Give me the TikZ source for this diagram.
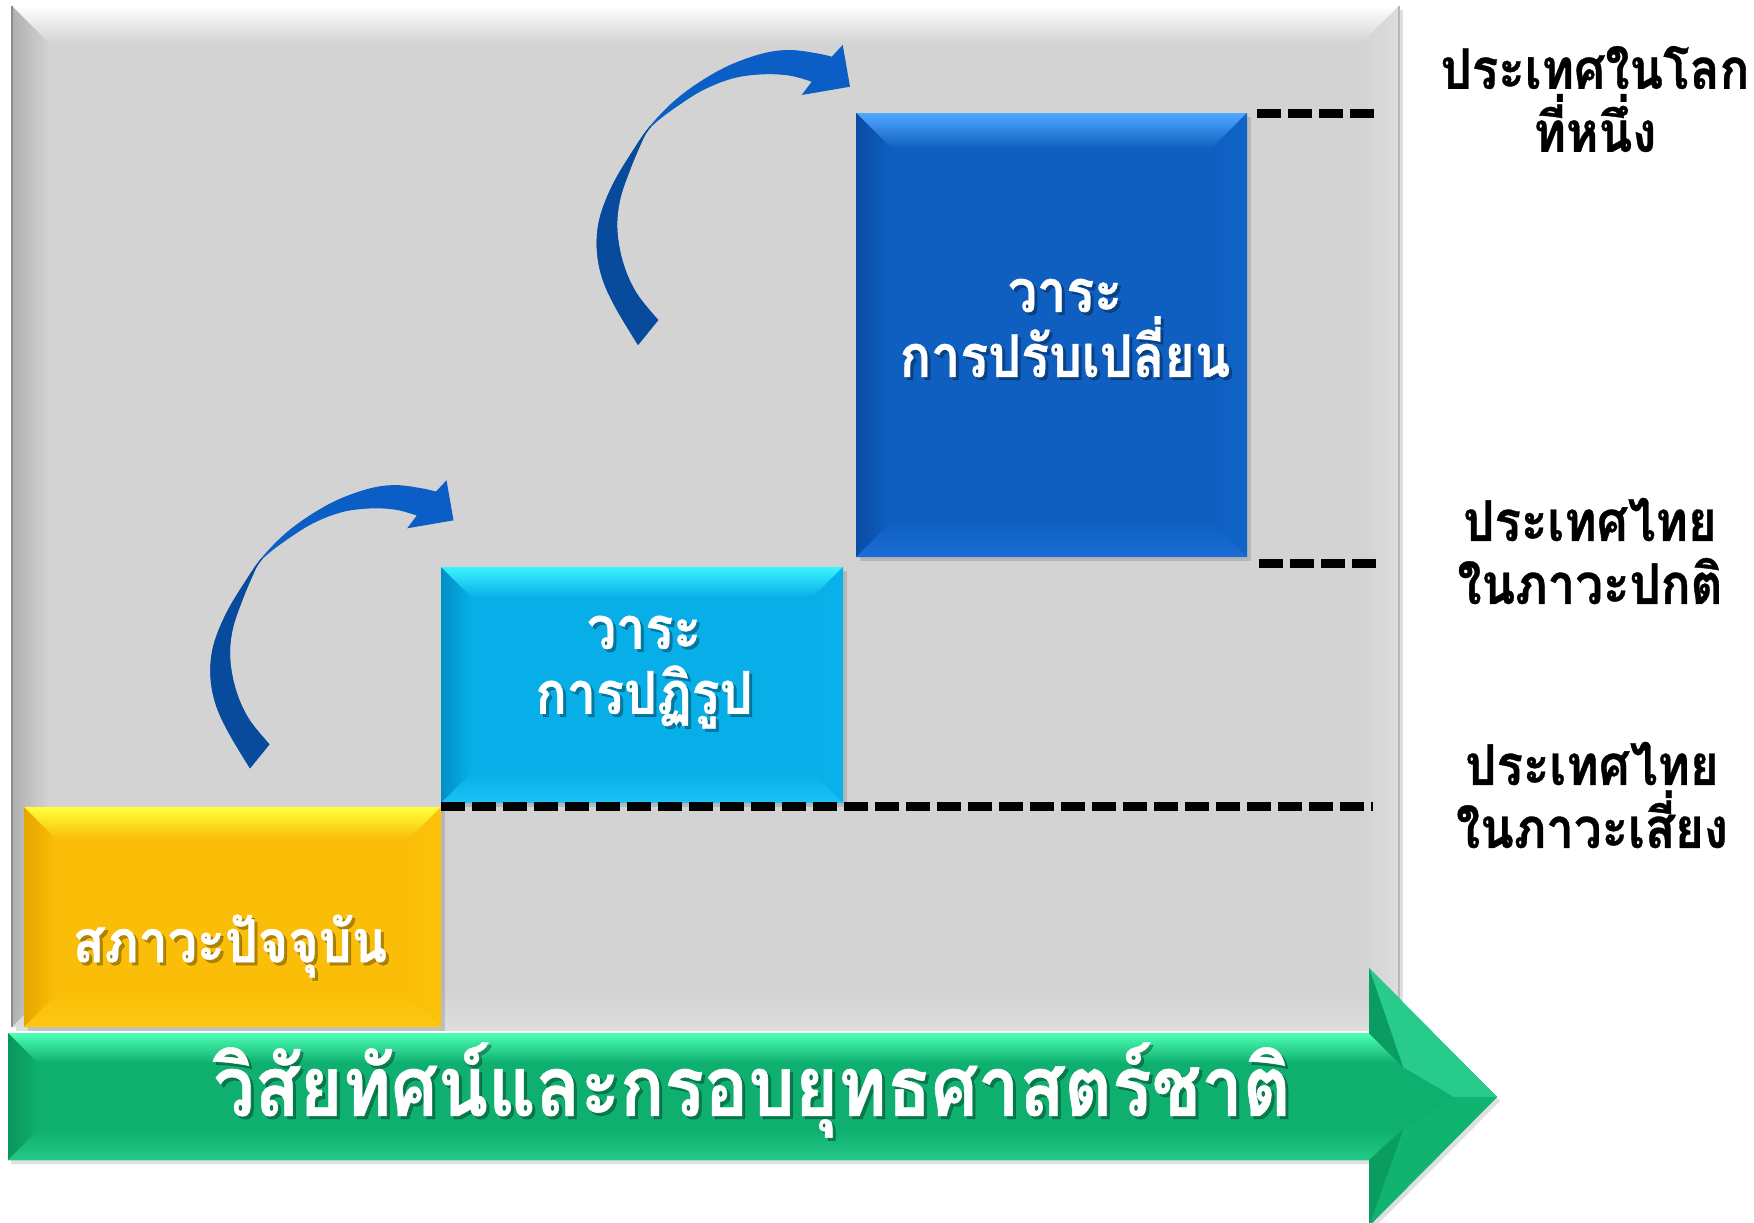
\documentclass[tikz,border=0pt]{standalone}
\usepackage{fontspec}
\newfontfamily\thai[Script=Thai, FakeStretch=0.88, BoldFeatures={FakeBold=0.6}]{Loma}
\usetikzlibrary{fit}

\definecolor{panel-base}{HTML}{D3D3D3}
\definecolor{panel-top}{HTML}{FFFFFF}
\definecolor{panel-left}{HTML}{B0B0B0}
\definecolor{panel-right}{HTML}{DDDDDD}
\definecolor{panel-bot}{HTML}{DCDCDC}

\definecolor{cur-base}{HTML}{FBBE08}
\definecolor{cur-top}{HTML}{FFFF3C}
\definecolor{cur-left}{HTML}{E6A600}
\definecolor{cur-right}{HTML}{FCC20C}
\definecolor{cur-bot}{HTML}{FDC812}

\definecolor{ref-base}{HTML}{08AEE8}
\definecolor{ref-top}{HTML}{3CF4FF}
\definecolor{ref-left}{HTML}{008FC4}
\definecolor{ref-right}{HTML}{0AB2EC}
\definecolor{ref-bot}{HTML}{1CC2F6}

\definecolor{chg-base}{HTML}{0F5FC1}
\definecolor{chg-top}{HTML}{50A8FF}
\definecolor{chg-left}{HTML}{0A4BA4}
\definecolor{chg-right}{HTML}{1064C8}
\definecolor{chg-bot}{HTML}{1A6ED6}

\definecolor{vis-base}{HTML}{0FB06F}
\definecolor{vis-top}{HTML}{4DFFB5}
\definecolor{vis-left}{HTML}{0A955B}
\definecolor{vis-bot}{HTML}{24C887}
\definecolor{vis-facet}{HTML}{27CB8B}
\definecolor{vis-dark}{HTML}{0B9C61}

\definecolor{arrdark}{HTML}{084A9B}
\definecolor{arrlight}{HTML}{0A5EC5}

\tikzset{
  boxtext/.style={text=white, font=\thai\bfseries\fontsize{29.5}{32.5}\selectfont, align=center, inner sep=0pt},
  sidetext/.style={text=black, font=\thai\bfseries\fontsize{28}{31.5}\selectfont, align=center, inner sep=0pt},
  bigtext/.style={text=white, font=\thai\bfseries\fontsize{41.8}{44}\selectfont, inner sep=0pt},
  textshadow/.style={text=black, text opacity=0.3, xshift=1.5pt, yshift=-1.5pt},
  dashline/.style={line width=4.5pt, dash pattern=on 12pt off 3.5pt, black},
  boxshadow/.style={black, opacity=0.13},
}

% #1 name, #2 x1, #3 y1, #4 x2, #5 y2, #6 bevel size (px)
\newcommand\bevelbox[6]{%
  \path (#2,#3) coordinate (#1-nw) (#4,#5) coordinate (#1-se)
        (#4,#3) coordinate (#1-ne) (#2,#5) coordinate (#1-sw)
        ({#2+#6},{#3+#6}) coordinate (#1-inw) ({#4-#6},{#3+#6}) coordinate (#1-ine)
        ({#4-#6},{#5-#6}) coordinate (#1-ise) ({#2+#6},{#5-#6}) coordinate (#1-isw);
  \fill[boxshadow] ({#2+4},{#3+4}) rectangle ({#4+4},{#5+4});
  \node[inner sep=0pt, outer sep=0pt, fill=#1-base, fit=(#1-nw)(#1-se)] (#1) {};
  \shade[top color=#1-top, bottom color=#1-base] (#1-nw) -- (#1-ne) -- (#1-ine) -- (#1-inw) -- cycle;
  \shade[left color=#1-left, right color=#1-base] (#1-nw) -- (#1-inw) -- (#1-isw) -- (#1-sw) -- cycle;
  \shade[left color=#1-base, right color=#1-right] (#1-ne) -- (#1-ine) -- (#1-ise) -- (#1-se) -- cycle;
  \shade[top color=#1-base, bottom color=#1-bot] (#1-sw) -- (#1-isw) -- (#1-ise) -- (#1-se) -- cycle;
}

% the twisted curved arrow, tail outer corner at the origin
\newcommand\arrowpath{%
  plot[smooth, tension=0.6] coordinates {(0,0) (-23,-38.3) (-36.3,-68.3) (-41.3,-98.3) (-38,-128.3) (-24.7,-161.7) (-4.7,-195) (12,-219) (35.3,-243.3) (62,-263.3) (92,-280) (125.3,-291.7) (152,-295) (178.7,-291.7) (193.7,-288.3)}
  -- (204.7,-300) -- (212,-258.3) -- (163.7,-250)
  -- plot[smooth, tension=0.6] coordinates {(173.7,-263.3) (152,-269.3) (125.3,-270.7) (95.3,-266.7) (65.3,-255) (38.7,-238.3) (18.7,-223.3) (9,-213) (2,-199) (-8,-175) (-18,-145) (-20.7,-115) (-14.7,-81.7) (-1.3,-51.7) (20.3,-25)}
  -- cycle}
\newcommand\curvedarrowshape{%
  \fill[arrlight] \arrowpath;
  \begin{scope}
    \clip (-188,-419) -- (212,-19) -- (212,100) -- (-200,100) -- (-200,-419) -- cycle;
    \fill[arrdark] \arrowpath;
  \end{scope}
}

\begin{document}
\begin{tikzpicture}[x=0.5pt,y=-0.5pt]
\useasboundingbox (0,0) rectangle (1754,1222);
\fill[white] (0,0) rectangle (1754,1222);

% background panel
\bevelbox{panel}{12}{6}{1399}{1027}{37}
\draw[black!45, line width=0.8pt] (panel-nw) -- (panel-sw);
\draw[black!28, line width=0.8pt] (panel-ne) -- (panel-se);

% curved arrows
\begin{scope}[shift={(638,345)}]
  \curvedarrowshape
\end{scope}
\begin{scope}[shift={(250,768.3)}, scale=0.96]
  \curvedarrowshape
\end{scope}

% boxes
\bevelbox{chg}{856}{113}{1247}{557}{35}
\bevelbox{ref}{441}{567}{843}{803}{30}
\bevelbox{cur}{24}{807}{441}{1027}{32}

% green arrow
\fill[black, opacity=0.12] (11,1037) -- (1372,1037) -- (1372,972) -- (1500,1101) -- (1372,1230) -- (1372,1164) -- (11,1164) -- cycle;
\fill[vis-base] (8,1033) -- (1369,1033) -- (1369,968) -- (1497,1097) -- (1369,1226) -- (1369,1160) -- (8,1160) -- cycle;
\shade[top color=vis-top, bottom color=vis-base] (8,1033) -- (1369,1033) -- (1399,1063) -- (38,1063) -- cycle;
\shade[left color=vis-left, right color=vis-base] (8,1033) -- (38,1063) -- (38,1130) -- (8,1160) -- cycle;
\shade[top color=vis-base, bottom color=vis-bot] (8,1160) -- (38,1130) -- (1399,1130) -- (1369,1160) -- cycle;
\fill[vis-facet] (1369,968) -- (1497,1097) -- (1454,1097) -- (1403,1067) -- cycle;
\fill[vis-dark] (1369,968) -- (1403,1067) -- (1369,1033) -- cycle;
\fill[vis-base!90!vis-facet] (1369,1226) -- (1497,1097) -- (1454,1097) -- (1403,1130) -- cycle;
\fill[vis-dark] (1369,1226) -- (1403,1130) -- (1369,1160) -- cycle;

% dashed level lines
\coordinate (d1a) at (1257,113); \coordinate (d1b) at (1374,113);
\coordinate (d2a) at (1259,563); \coordinate (d2b) at (1376,563);
\coordinate (d3a) at (441,806);  \coordinate (d3b) at (1373,806);
\draw[dashline] (d1a) -- (d1b);
\draw[dashline] (d2a) -- (d2b);
\draw[dashline] (d3a) -- (d3b);

% white texts with their soft shadows
\node[boxtext, textshadow] (tcur-sh) at (230,946) {สภาวะปัจจุบัน};
\node[boxtext] (tcur) at (230,946) {สภาวะปัจจุบัน};
\node[boxtext, textshadow] (tref-sh) at (644,672) {วาระ\\การปฏิรูป};
\node[boxtext] (tref) at (644,672) {วาระ\\การปฏิรูป};
\node[boxtext, textshadow] (tchg-sh) at (1065,328) {วาระ\\การปรับเปลี่ยน};
\node[boxtext] (tchg) at (1065,328) {วาระ\\การปรับเปลี่ยน};
\node[bigtext, textshadow] (tvis-sh) at (752,1090) {วิสัยทัศน์และกรอบยุทธศาสตร์ชาติ};
\node[bigtext] (tvis) at (752,1090) {วิสัยทัศน์และกรอบยุทธศาสตร์ชาติ};

% level labels
\node[sidetext] (lab1) at (1595,99) {ประเทศในโลก\\ที่หนึ่ง};
\node[sidetext] (lab2) at (1590,551) {ประเทศไทย\\ในภาวะปกติ};
\node[sidetext] (lab3) at (1592,795) {ประเทศไทย\\ในภาวะเสี่ยง};
\end{tikzpicture}
\end{document}
